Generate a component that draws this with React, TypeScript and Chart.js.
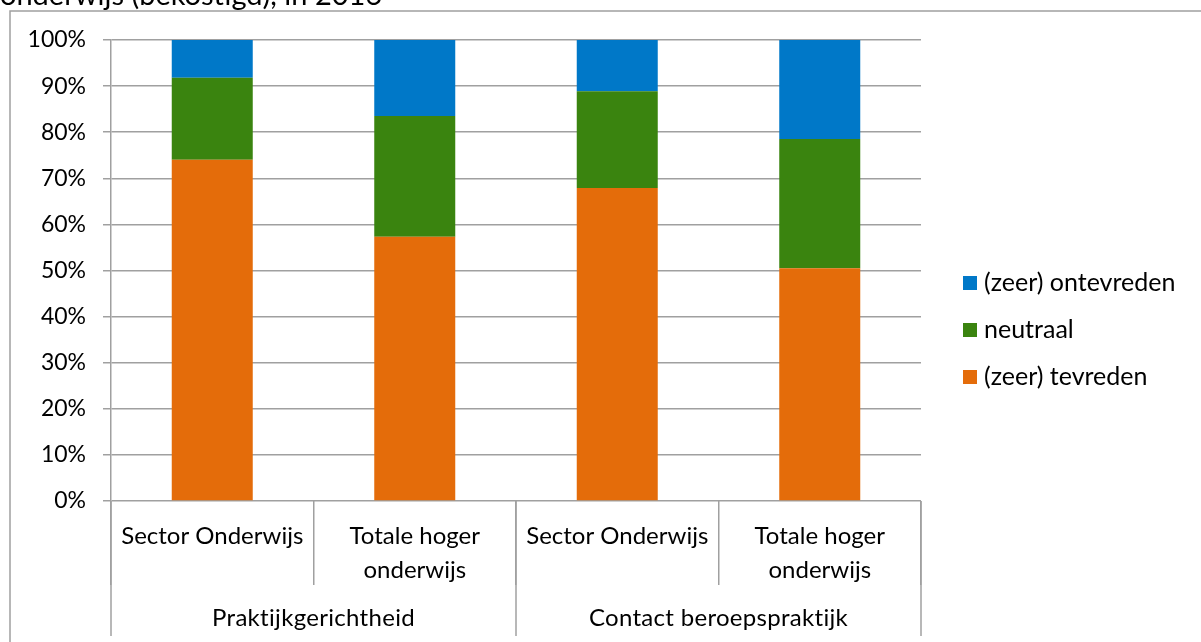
import React, { useEffect, useRef } from "react";
import { Chart, registerables } from "chart.js";

Chart.register(...registerables);

const categories: string[][] = [
  ["Sector Onderwijs"],
  ["Totale hoger", "onderwijs"],
  ["Sector Onderwijs"],
  ["Totale hoger", "onderwijs"],
];
const groups: string[] = ["Praktijkgerichtheid", "Contact beroepspraktijk"];
const tevreden: number[] = [74.0, 57.3, 67.9, 50.5];
const neutraal: number[] = [17.8, 26.2, 21.0, 28.0];
const ontevreden: number[] = [8.2, 16.5, 11.1, 21.5];
const seriesNames: string[] = ["(zeer) tevreden", "neutraal", "(zeer) ontevreden"];
const titleText = "onderwijs (bekostigd), in 2016";

const COLORS = ["#E46C0A", "#3A840F", "#0078C8"];
const GRID = "#a0a0a0";
const FONT = "Lato";
const FS = 24;

export default function App() {
  const ref = useRef<HTMLCanvasElement | null>(null);
  useEffect(() => {
    if (!ref.current) return;
    const decor = {
      id: "decor",
      afterDraw(chart: any) {
        const ctx = chart.ctx as any;
        const x = chart.scales.x;
        const area = chart.chartArea;
        ctx.save();
        // outer border
        ctx.strokeStyle = GRID;
        ctx.lineWidth = 1.5;
        ctx.beginPath();
        ctx.moveTo(10, 700);
        ctx.lineTo(10, 11);
        ctx.lineTo(1300, 11);
        ctx.stroke();
        // title (clipped at top)
        ctx.fillStyle = "#000";
        ctx.font = `29px ${FONT}`;
        ctx.textBaseline = "alphabetic";
        ctx.textAlign = "left";
        ctx.fillText(titleText, 0, 5);
        // long dividers and group labels
        const half = (x.getPixelForValue(1) - x.getPixelForValue(0)) / 2;
        ctx.strokeStyle = GRID;
        ctx.lineWidth = 1.5;
        [0, 2, 4].forEach((i) => {
          const px = i < 4 ? x.getPixelForValue(i) - half : x.getPixelForValue(3) + half;
          ctx.beginPath();
          ctx.moveTo(px, area.bottom);
          ctx.lineTo(px, 636);
          ctx.stroke();
        });
        ctx.font = `${FS}px ${FONT}`;
        ctx.letterSpacing = "0.3px";
        ctx.textAlign = "center";
        ctx.textBaseline = "middle";
        groups.forEach((g, gi) => {
          const cx = (x.getPixelForValue(gi * 2) + x.getPixelForValue(gi * 2 + 1)) / 2;
          ctx.fillText(g, cx, 618);
        });
        // legend
        ctx.font = `25px ${FONT}`;
        ctx.letterSpacing = "0px";
        const items = [2, 1, 0];
        items.forEach((si, k) => {
          const y = 283 + k * 47;
          ctx.fillStyle = COLORS[si];
          ctx.fillRect(963, y - 7, 14, 14);
          ctx.fillStyle = "#000";
          ctx.textAlign = "left";
          ctx.fillText(seriesNames[si], 984, y);
        });
        ctx.restore();
      },
    };
    const chart = new Chart(ref.current, {
      type: "bar",
      data: {
        labels: categories,
        datasets: [
          { label: seriesNames[0], data: tevreden, backgroundColor: COLORS[0] },
          { label: seriesNames[1], data: neutraal, backgroundColor: COLORS[1] },
          { label: seriesNames[2], data: ontevreden, backgroundColor: COLORS[2] },
        ].map((d) => ({ ...d, categoryPercentage: 0.4, barPercentage: 1, borderWidth: 0 })),
      },
      options: {
        animation: false,
        responsive: false,
        maintainAspectRatio: false,
        layout: { padding: { left: 0, top: 40, right: 280, bottom: 0 } },
        plugins: { legend: { display: false }, tooltip: { enabled: false }, title: { display: false } },
        scales: {
          x: {
            stacked: true,
            afterFit: (s: any) => {
              s.height = 141;
            },
            grid: {
              offset: true,
              drawOnChartArea: false,
              drawTicks: true,
              tickLength: 84,
              color: GRID,
              lineWidth: 1.5,
            },
            border: { display: false },
            ticks: {
              color: "#000",
              font: { family: FONT, size: FS, lineHeight: 1.42 },
              padding: -66,
              maxRotation: 0,
              autoSkip: false,
            },
          },
          y: {
            stacked: true,
            min: 0,
            max: 100,
            afterFit: (s: any) => {
              s.width = 111;
            },
            grid: { color: GRID, lineWidth: 1.5, tickLength: 8 },
            border: { color: GRID, width: 1.5 },
            ticks: {
              stepSize: 10,
              color: "#000",
              padding: 17,
              font: { family: FONT, size: 23 },
              callback: (v: any) => v + "%",
            },
          },
        },
      },
      plugins: [decor],
    });
    return () => chart.destroy();
  }, []);
  return (
    <div style={{ position: "absolute", left: 0, top: 0, width: 1201, height: 642 }}>
      <canvas ref={ref} width={1201} height={642} style={{ width: 1201, height: 642, display: "block" }} />
    </div>
  );
}
